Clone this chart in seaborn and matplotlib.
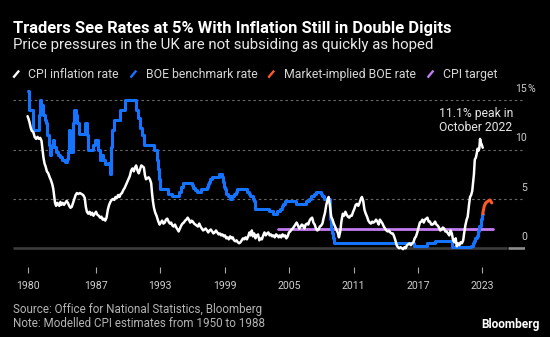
import numpy as np
import pandas as pd
import matplotlib
matplotlib.use("Agg")
import matplotlib.pyplot as plt
import matplotlib.transforms as mtransforms
from matplotlib.lines import Line2D
import seaborn as sns

# ---------------- data ----------------
cpi_year = [1980.62, 1980.72, 1980.82, 1980.92, 1981.02, 1981.15, 1981.28, 1981.42, 1981.55, 1981.68,
            1981.80, 1981.92, 1982.02, 1982.10, 1982.20, 1982.30, 1982.42, 1982.55, 1982.68, 1982.80,
            1982.92, 1983.02, 1983.10, 1983.18, 1983.28, 1983.38, 1983.48, 1983.58, 1983.68, 1983.78,
            1983.90, 1984.02, 1984.14, 1984.26, 1984.38, 1984.50, 1984.62, 1984.74, 1984.86, 1984.98,
            1985.10, 1985.22, 1985.35, 1985.50, 1985.65, 1985.80, 1985.95, 1986.05, 1986.15, 1986.28,
            1986.40, 1986.52, 1986.64, 1986.76, 1986.88, 1987.00, 1987.12, 1987.25, 1987.38, 1987.50,
            1987.62, 1987.74, 1987.86, 1987.98, 1988.10, 1988.22, 1988.34, 1988.46, 1988.58, 1988.70,
            1988.82, 1988.94, 1989.06, 1989.18, 1989.30, 1989.42, 1989.54, 1989.66, 1989.78, 1989.90,
            1990.02, 1990.14, 1990.28, 1990.40, 1990.52, 1990.64, 1990.74, 1990.86, 1990.98, 1991.10,
            1991.22, 1991.34, 1991.46, 1991.56, 1991.66, 1991.78, 1991.90, 1992.02, 1992.14, 1992.22,
            1992.30, 1992.40, 1992.52, 1992.64, 1992.78, 1992.92, 1993.04, 1993.16, 1993.28, 1993.40,
            1993.52, 1993.64, 1993.76, 1993.88, 1994.00, 1994.12, 1994.24, 1994.36, 1994.48, 1994.60,
            1994.70, 1994.82, 1994.94, 1995.06, 1995.18, 1995.30, 1995.42, 1995.54, 1995.66, 1995.78,
            1995.90, 1996.02, 1996.14, 1996.26, 1996.38, 1996.50, 1996.62, 1996.74, 1996.86, 1996.98,
            1997.10, 1997.22, 1997.34, 1997.46, 1997.58, 1997.70, 1997.82, 1997.94, 1998.06, 1998.18,
            1998.30, 1998.42, 1998.54, 1998.66, 1998.78, 1998.90, 1999.02, 1999.14, 1999.26, 1999.38,
            1999.50, 1999.62, 1999.74, 1999.86, 1999.98, 2000.10, 2000.22, 2000.34, 2000.46, 2000.58,
            2000.70, 2000.82, 2000.94, 2001.06, 2001.18, 2001.30, 2001.40, 2001.52, 2001.62, 2001.74,
            2001.86, 2001.98, 2002.10, 2002.22, 2002.34, 2002.46, 2002.58, 2002.70, 2002.82, 2002.94,
            2003.06, 2003.18, 2003.30, 2003.42, 2003.54, 2003.66, 2003.78, 2003.90, 2004.02, 2004.14,
            2004.26, 2004.38, 2004.50, 2004.62, 2004.74, 2004.86, 2004.98, 2005.10, 2005.22, 2005.34,
            2005.46, 2005.58, 2005.70, 2005.82, 2005.94, 2006.06, 2006.18, 2006.30, 2006.42, 2006.54,
            2006.66, 2006.78, 2006.90, 2007.02, 2007.14, 2007.26, 2007.38, 2007.50, 2007.62, 2007.74,
            2007.86, 2007.98, 2008.10, 2008.22, 2008.34, 2008.46, 2008.58, 2008.68, 2008.80, 2008.92,
            2009.04, 2009.16, 2009.28, 2009.40, 2009.52, 2009.64, 2009.76, 2009.88, 2010.00, 2010.12,
            2010.24, 2010.36, 2010.48, 2010.60, 2010.72, 2010.84, 2010.96, 2011.08, 2011.20, 2011.32,
            2011.44, 2011.56, 2011.68, 2011.78, 2011.90, 2012.02, 2012.14, 2012.26, 2012.38, 2012.50,
            2012.62, 2012.74, 2012.86, 2012.98, 2013.10, 2013.22, 2013.34, 2013.46, 2013.58, 2013.70,
            2013.82, 2013.94, 2014.06, 2014.18, 2014.30, 2014.42, 2014.54, 2014.66, 2014.78, 2014.90,
            2015.02, 2015.14, 2015.26, 2015.38, 2015.50, 2015.62, 2015.74, 2015.86, 2015.98, 2016.10,
            2016.22, 2016.34, 2016.46, 2016.58, 2016.70, 2016.82, 2016.94, 2017.06, 2017.18, 2017.30,
            2017.42, 2017.54, 2017.66, 2017.78, 2017.88, 2018.00, 2018.12, 2018.24, 2018.36, 2018.48,
            2018.60, 2018.72, 2018.84, 2018.96, 2019.08, 2019.20, 2019.32, 2019.44, 2019.56, 2019.68,
            2019.80, 2019.92, 2020.04, 2020.16, 2020.28, 2020.40, 2020.52, 2020.62, 2020.74, 2020.86,
            2020.98, 2021.10, 2021.22, 2021.32, 2021.42, 2021.54, 2021.64, 2021.76, 2021.86, 2021.96,
            2022.06, 2022.14, 2022.22, 2022.30, 2022.40, 2022.48, 2022.56, 2022.64, 2022.72, 2022.79,
            2022.87, 2022.95, 2023.04]
cpi_rate = [13.4, 13.1, 12.7, 12.2, 11.9, 11.8, 11.3, 11.1, 11.3, 11.1,
            11.2, 10.9, 10.0, 9.2, 8.6, 8.3, 7.8, 7.6, 7.2, 6.9,
            6.5, 6.0, 5.3, 4.6, 4.3, 4.6, 4.5, 4.3, 4.7, 4.4,
            4.6, 4.4, 4.6, 4.8, 4.6, 4.3, 4.1, 4.2, 4.6, 5.0,
            5.4, 5.6, 5.5, 5.6, 5.5, 5.4, 5.1, 4.2, 3.7, 3.5,
            3.7, 3.4, 3.6, 3.3, 3.5, 3.7, 3.4, 3.3, 3.1, 3.2,
            2.9, 3.0, 2.8, 3.1, 3.9, 4.4, 4.7, 4.9, 5.0, 4.9,
            5.2, 5.1, 5.4, 5.2, 5.5, 5.6, 5.9, 6.1, 6.4, 6.7,
            7.0, 7.3, 7.9, 8.1, 7.8, 8.2, 8.4, 7.9, 7.6, 8.0,
            8.4, 8.3, 8.2, 7.4, 7.0, 7.1, 7.2, 7.0, 6.6, 5.6,
            4.8, 4.1, 3.6, 3.3, 2.8, 2.4, 2.6, 2.8, 2.5, 2.6,
            2.9, 3.0, 2.7, 2.5, 2.6, 2.3, 2.2, 2.4, 2.1, 1.9,
            1.7, 2.0, 2.3, 2.5, 2.6, 2.8, 2.9, 3.1, 2.9, 2.6,
            2.8, 2.7, 2.5, 2.4, 2.3, 2.2, 2.5, 2.2, 2.0, 1.8,
            1.9, 2.0, 1.8, 1.6, 1.8, 1.9, 1.7, 1.5, 1.6, 1.8,
            1.6, 1.4, 1.5, 1.3, 1.4, 1.2, 1.3, 1.0, 1.1, 0.9,
            1.2, 1.0, 1.1, 0.8, 0.7, 0.8, 0.6, 0.5, 0.6, 0.8,
            1.0, 0.9, 1.1, 0.9, 1.2, 1.6, 1.3, 1.8, 1.2, 1.5,
            1.0, 1.3, 1.4, 0.8, 1.0, 0.9, 1.3, 1.6, 1.3, 1.5,
            1.6, 1.3, 1.4, 1.2, 1.3, 1.1, 1.4, 1.3, 1.1, 1.3,
            1.1, 1.4, 1.2, 1.3, 1.0, 1.2, 1.6, 1.7, 1.9, 2.0,
            2.2, 2.4, 2.6, 2.3, 2.0, 2.2, 2.4, 2.3, 2.0, 2.4,
            2.5, 2.4, 2.8, 3.0, 3.1, 2.6, 2.4, 2.0, 1.8, 1.9,
            2.2, 2.3, 2.5, 3.1, 3.6, 4.4, 4.9, 5.2, 4.3, 3.2,
            2.9, 2.5, 2.2, 1.9, 1.6, 1.1, 1.7, 2.8, 3.5, 3.3,
            3.7, 3.4, 3.2, 3.1, 3.3, 3.3, 3.7, 4.0, 4.4, 4.5,
            4.3, 4.6, 5.0, 5.2, 4.8, 3.9, 3.5, 3.2, 2.8, 2.6,
            2.5, 2.7, 2.6, 2.7, 2.9, 2.7, 2.4, 2.9, 2.7, 2.5,
            2.2, 2.0, 1.8, 1.7, 1.8, 1.6, 1.5, 1.5, 1.2, 0.8,
            0.3, 0.1, 0.0, 0.1, 0.0, -0.1, 0.1, 0.0, 0.3, 0.4,
            0.5, 0.3, 0.5, 0.6, 1.0, 1.2, 1.6, 2.1, 2.6, 2.7,
            2.9, 2.6, 2.9, 3.0, 3.1, 2.7, 2.7, 2.4, 2.4, 2.5,
            2.7, 2.4, 2.3, 2.1, 1.8, 1.9, 2.1, 2.0, 1.7, 1.7,
            1.5, 1.3, 1.8, 1.5, 0.8, 0.6, 1.0, 0.2, 0.5, 0.3,
            0.6, 0.5, 0.8, 1.6, 2.3, 2.9, 3.2, 4.4, 5.2, 5.4,
            5.8, 6.6, 7.5, 9.0, 9.2, 9.6, 10.1, 9.9, 10.1, 11.1,
            10.7, 10.5, 10.2]

# BOE benchmark rate: dates on which the rate changed, and the new level
boe_year = [1980.63, 1980.75, 1981.15, 1981.66, 1981.74, 1981.90, 1982.05, 1982.20, 1982.35, 1982.45,
            1982.58, 1982.68, 1982.83, 1982.97, 1983.12, 1983.28, 1983.45, 1983.62, 1983.85, 1984.10,
            1984.25, 1984.40, 1984.48, 1984.57, 1984.70, 1984.86, 1984.97, 1985.10, 1985.25, 1985.38,
            1985.95, 1986.15, 1986.28, 1986.76, 1986.86, 1987.20, 1987.33, 1987.50, 1987.65, 1987.80,
            1988.15, 1988.28, 1988.40, 1988.52, 1988.72, 1989.25, 1989.70, 1990.75, 1990.92, 1991.10,
            1991.30, 1991.50, 1992.38, 1992.70, 1992.77, 1992.85, 1992.96, 1993.70, 1994.08, 1994.70,
            1994.92, 1995.10, 1995.92, 1996.05, 1996.20, 1996.45, 1996.80, 1997.35, 1997.45, 1997.55,
            1997.62, 1997.85, 1998.42, 1998.77, 1998.85, 1998.95, 1999.02, 1999.10, 1999.28, 1999.45,
            1999.70, 1999.85, 2000.03, 2000.12, 2001.10, 2001.27, 2001.38, 2001.60, 2001.70, 2001.77,
            2001.85, 2003.10, 2003.52, 2003.85, 2004.10, 2004.35, 2004.45, 2004.60, 2005.60, 2006.60,
            2006.85, 2007.03, 2007.35, 2007.52, 2007.95, 2008.10, 2008.28, 2008.77, 2008.85, 2008.93,
            2009.02, 2009.10, 2009.18, 2016.60, 2017.84, 2018.59, 2020.20, 2021.96, 2022.09, 2022.21,
            2022.34, 2022.46, 2022.59, 2022.73, 2022.84, 2022.96, 2023.05]
boe_rate = [16.0, 14.0, 12.0, 13.5, 15.0, 14.5, 13.5, 13.0, 12.75, 11.5,
            10.5, 9.5, 10.25, 11.0, 10.25, 9.75, 9.5, 9.25, 9.0, 8.75,
            9.1, 9.75, 12.0, 10.5, 9.75, 12.75, 14.0, 13.5, 12.75, 11.6,
            12.75, 11.5, 10.0, 10.5, 11.0, 10.0, 9.0, 9.5, 9.0, 8.5,
            8.6, 7.5, 10.25, 12.0, 13.0, 14.0, 15.0, 14.0, 13.25, 12.25,
            11.5, 10.5, 10.0, 9.0, 8.0, 7.0, 6.0, 5.5, 5.25, 5.75,
            6.25, 6.6, 6.4, 6.1, 5.9, 5.75, 6.0, 6.25, 6.5, 6.75,
            7.0, 7.25, 7.5, 7.25, 6.75, 6.25, 6.0, 5.5, 5.25, 5.0,
            5.25, 5.5, 5.75, 6.0, 5.75, 5.5, 5.25, 5.0, 4.75, 4.5,
            4.0, 3.75, 3.5, 3.75, 4.0, 4.25, 4.5, 4.75, 4.5, 4.75,
            5.0, 5.25, 5.5, 5.75, 5.5, 5.25, 5.0, 4.5, 3.0, 2.0,
            1.5, 1.0, 0.5, 0.25, 0.5, 0.75, 0.1, 0.25, 0.5, 0.75,
            1.0, 1.25, 1.75, 2.25, 3.0, 3.5, 3.5]

implied_year = [2023.05, 2023.09, 2023.19, 2023.32, 2023.56, 2023.72, 2023.88]
implied_rate = [3.5, 3.8, 4.3, 4.6, 4.8, 4.9, 4.6]

target_year = [2003.92, 2024.0]
target_rate = [2.0, 2.0]

tick_labels = ["1980", "1987", "1993", "1999", "2005", "2011", "2017", "2023"]
tick_pos = [cpi_year[0], 1987, 1993, 1999, 2005, 2011, 2017, 2023]
y_levels = [0, 5, 10, 15]
y_labels = ["0", "5", "10", "15"]

peak_note = ["11.1% peak in", "October 2022"]
legend_labels = ["CPI inflation rate", "BOE benchmark rate", "Market-implied BOE rate", "CPI target"]

# ---------------- style ----------------
WHITE = "#ffffff"
BLUE = "#1473ff"
ORANGE = "#ff5a26"
PURPLE = "#c47cf2"
colors = [WHITE, BLUE, ORANGE, PURPLE]

sns.set_theme(style="dark", rc={"axes.facecolor": "black", "figure.facecolor": "black"})
plt.rcParams["font.family"] = ["Roboto", "DejaVu Sans"]

W, H = 550, 337
fig = plt.figure(figsize=(W / 100, H / 100), dpi=100, facecolor="black")


def fx(x):
    return x / W


def fy(y):
    return 1 - y / H


ax_l, ax_r, ax_t, ax_b = 12.7, 525.0, 85.0, 267.0
ax = fig.add_axes([fx(ax_l), fy(ax_b), fx(ax_r - ax_l), (ax_b - ax_t) / H])
ax.set_facecolor("black")

df_cpi = pd.DataFrame({"year": cpi_year, "rate": cpi_rate})
df_boe = pd.DataFrame({"year": boe_year, "rate": boe_rate})
df_imp = pd.DataFrame({"year": implied_year, "rate": implied_rate})
df_tgt = pd.DataFrame({"year": target_year, "rate": target_rate})

# grid lines
for lv in y_levels[1:]:
    ax.axhline(lv, color="#6a6a6a", lw=0.8, ls=(0, (2.2, 2.6)), zorder=1)
# baseline
ax.axhline(0, xmin=0, xmax=(507 - ax_l) / (ax_r - ax_l), color="#3c3c3c", lw=1.9, zorder=1.5,
           solid_capstyle="butt")
ax.axhline(0, xmin=(507.7 - ax_l) / (ax_r - ax_l), xmax=1.0, color="#8c8c8c", lw=1.9, zorder=1.5,
           solid_capstyle="butt")

sns.lineplot(data=df_tgt, x="year", y="rate", ax=ax, color=PURPLE, lw=2.0, estimator=None, zorder=3)
sns.lineplot(data=df_boe, x="year", y="rate", ax=ax, color=BLUE, lw=2.2, estimator=None,
             drawstyle="steps-post", zorder=4)
sns.lineplot(data=df_imp, x="year", y="rate", ax=ax, color=ORANGE, lw=2.2, estimator=None, zorder=4)
sns.lineplot(data=df_cpi, x="year", y="rate", ax=ax, color=WHITE, lw=1.8, estimator=None, zorder=5)

zero_px, px_per = 248.2, 9.85
ax.set_ylim((zero_px - ax_b) / px_per, (zero_px - ax_t) / px_per)
x_per = 10.73
ax.set_xlim(2023 + (ax_l - 482.3) / x_per, 2023 + (ax_r - 482.3) / x_per)
ax.grid(False)
for s in ax.spines.values():
    s.set_visible(False)
ax.set_xlabel("")
ax.set_ylabel("")
ax.set_yticks([])

renderer = fig.canvas.get_renderer()


def fit(t, target):
    for _ in range(3):
        w = t.get_window_extent(renderer).width
        t.set_fontsize(t.get_fontsize() * target / w)
    return t.get_fontsize()


# tick font size from the width of "1980"
probe = fig.text(0, 0, "1980", fontsize=8)
tick_fs = fit(probe, 23.8)
probe.remove()

ax.set_xticks(tick_pos)
ax.set_xticklabels(tick_labels)
ax.tick_params(axis="x", direction="out", length=4.3, width=0.8, color="#a8a8a8",
               labelsize=tick_fs, labelcolor="#cfcfcf", pad=5.6, bottom=True)

# y labels above the grid lines, on the right
trans = mtransforms.blended_transform_factory(ax.transAxes, ax.transData)
trans_up = mtransforms.offset_copy(trans, fig=fig, x=0, y=8.3, units="dots")
xr = (527 - ax_l) / (ax_r - ax_l)
for lv, lab in zip(y_levels, y_labels):
    ax.text(xr, lv, lab, transform=trans_up, ha="right", va="baseline",
            fontsize=tick_fs, color="#cfcfcf")
ax.text(xr, y_levels[-1], "%", transform=trans_up, ha="left", va="baseline",
        fontsize=tick_fs, color="#cfcfcf")

# annotation
peak_x = 2023 + (476 - 482.3) / x_per
a1 = ax.text(peak_x, (zero_px - 117.3) / px_per, peak_note[0], ha="center", va="baseline",
             color="#e6e6e6", fontsize=8)
fs_a = fit(a1, 74)
ax.text(peak_x, (zero_px - 130.7) / px_per, peak_note[1], ha="center", va="baseline",
        color="#e6e6e6", fontsize=fs_a)

# titles
t1 = fig.text(fx(13.3), fy(32.7), "Traders See Rates at 5% With Inflation Still in Double Digits",
              ha="left", va="baseline", color="white", fontweight="bold", fontsize=11)
fit(t1, 437)
t2 = fig.text(fx(13.3), fy(49.5), "Price pressures in the UK are not subsiding as quickly as hoped",
              ha="left", va="baseline", color="#e8e8e8", fontsize=10)
fit(t2, 421)

# legend
leg_x = [28.5, 145.7, 283.5, 442.8]
lt = fig.text(fx(leg_x[0]), fy(78), legend_labels[0], ha="left", va="baseline",
              color="#d6d6d6", fontsize=8)
leg_fs = fit(lt, 91.9)
for i, (lx, lab, c) in enumerate(zip(leg_x, legend_labels, colors)):
    if i > 0:
        fig.text(fx(lx), fy(78), lab, ha="left", va="baseline", color="#d6d6d6", fontsize=leg_fs)
    fig.add_artist(Line2D([fx(lx - 15.2), fx(lx - 9.4)], [fy(77.6), fy(70.6)],
                          transform=fig.transFigure, color=c, lw=1.7, solid_capstyle="butt"))

# footer
s1 = fig.text(fx(13.3), fy(313.3), "Source: Office for National Statistics, Bloomberg",
              ha="left", va="baseline", color="#b4b4b4", fontsize=8)
fs_s = fit(s1, 248)
fig.text(fx(13.3), fy(326.7), "Note: Modelled CPI estimates from 1950 to 1988",
         ha="left", va="baseline", color="#b4b4b4", fontsize=fs_s)
b = fig.text(fx(539.3), fy(328.0), "Bloomberg", ha="right", va="baseline", color="white",
             fontweight="bold", fontsize=8)
fit(b, 58.6)

fig.savefig("out.png", dpi=100, facecolor="black")
